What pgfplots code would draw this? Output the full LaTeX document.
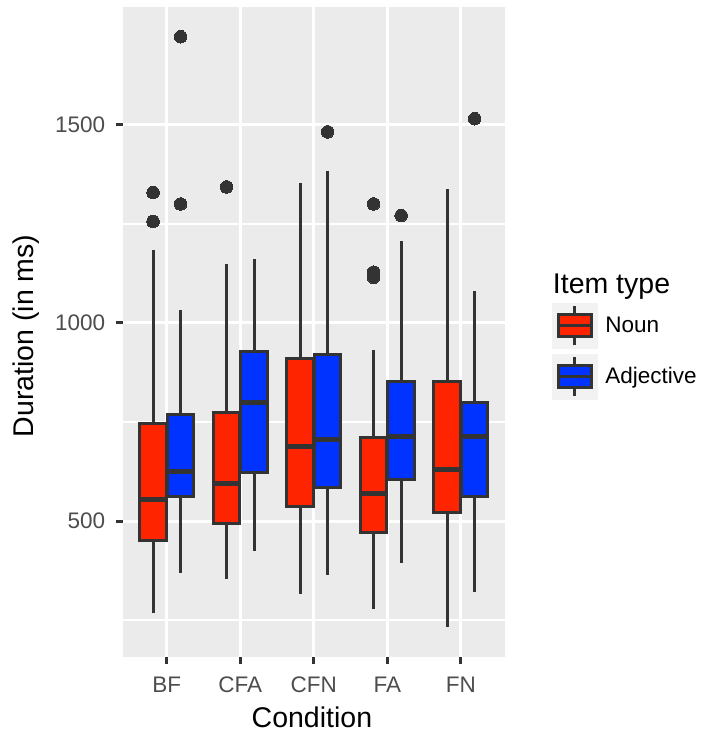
\documentclass[border=0pt]{standalone}
\usepackage{fontspec}
\setmainfont{Liberation Sans}
\usepackage{pgfplots}
\pgfplotsset{compat=1.18}
\definecolor{panelbg}{HTML}{EBEBEB}
\definecolor{gtwenty}{HTML}{333333}
\definecolor{tickgray}{HTML}{4D4D4D}
\definecolor{nounred}{RGB}{255,36,0}
\definecolor{adjblue}{RGB}{0,51,255}
\definecolor{keybg}{HTML}{F2F2F2}
\newcommand\legendkey[1]{%
  \fill[keybg] (0pt,-22.5pt) rectangle (45pt,22.5pt);
  \draw[gtwenty, line width=3pt] (22.5pt,-19.5pt) -- (22.5pt,19.5pt);
  \filldraw[draw=gtwenty, fill=#1, line width=3pt] (6.5pt,-11pt) rectangle (39.5pt,11pt);
  \draw[gtwenty, line width=3pt] (6.5pt,0pt) -- (39.5pt,0pt);
}
% \bx{position}{lower whisker}{lower quartile}{median}{upper quartile}{upper whisker}{fill colour}
\newcommand\bx[7]{%
  \addplot[forget plot, gtwenty, line width=3pt] coordinates {(#1,#2) (#1,#3)};
  \addplot[forget plot, gtwenty, line width=3pt] coordinates {(#1,#5) (#1,#6)};
  \addplot[forget plot, fill=#7, draw=gtwenty, line width=3pt]
    coordinates {(#1-0.18,#3) (#1+0.18,#3) (#1+0.18,#5) (#1-0.18,#5)} -- cycle;
  \addplot[forget plot, gtwenty, line width=5pt] coordinates {(#1-0.18,#4) (#1+0.18,#4)};
}
\pgfplotsset{outl/.style={forget plot, only marks, mark=*, mark size=6.3pt,
  mark options={fill=gtwenty, draw=gtwenty, line width=0pt}}}
\begin{document}
\begin{tikzpicture}
\useasboundingbox (0,0) rectangle (702pt,734pt);
\begin{axis}[
  at={(122.7pt,77pt)}, anchor=south west,
  scale only axis, width=382.3pt, height=650pt,
  xmin=-0.6, xmax=4.6, ymin=157, ymax=1797,
  axis background/.style={fill=panelbg},
  axis line style={draw=none},
  xtick={0,1,2,3,4}, xticklabels={BF,CFA,CFN,FA,FN},
  ytick={500,1000,1500}, minor ytick={250,750,1250},
  xmajorgrids, ymajorgrids, yminorgrids,
  major grid style={white, line width=3pt},
  minor grid style={white, line width=1.5pt},
  tick align=outside, xtick pos=bottom, ytick pos=left,
  major tick length=7pt, minor tick length=0pt,
  tick style={gtwenty, line width=3pt},
  ticklabel style={font=\fontsize{22.5}{27}\selectfont, text=tickgray},
  xticklabel style={yshift=-9pt},
  yticklabel style={xshift=-7pt},
  /pgf/number format/assume math mode=true,
  /pgf/number format/1000 sep={},
  xlabel={Condition}, ylabel={Duration (in ms)},
  label style={font=\fontsize{28.5}{34}\selectfont},
  xlabel style={at={(axis description cs:0.495,-0.1082)}, anchor=base},
  ylabel style={at={(axis description cs:-0.2516,0.494)}, anchor=center},
  legend style={at={(axis description cs:1.1222,0.5442)}, anchor=north west,
    draw=none, fill=none, inner sep=0pt, outer sep=0pt, row sep=5pt, column sep=8.3pt,
    font=\fontsize{22.5}{27}\selectfont, nodes={inner sep=0pt}},
  legend cell align=left,
]
% BF
\bx{-0.1875}{267}{451}{555}{746}{1184}{nounred}
\addplot[outl] coordinates {(-0.1875,1329) (-0.1875,1256)};
\bx{0.1875}{370}{563}{626}{768}{1032}{adjblue}
\addplot[outl] coordinates {(0.1875,1722) (0.1875,1300)};
% CFA
\bx{0.8125}{353}{493}{594}{774}{1149}{nounred}
\addplot[outl] coordinates {(0.8125,1343)};
\bx{1.1875}{425}{623}{799}{927}{1162}{adjblue}
% CFN
\bx{1.8125}{317}{537}{688}{911}{1354}{nounred}
\bx{2.1875}{364}{585}{707}{921}{1384}{adjblue}
\addplot[outl] coordinates {(2.1875,1482)};
% FA
\bx{2.8125}{277}{471}{569}{711}{931}{nounred}
\addplot[outl] coordinates {(2.8125,1300) (2.8125,1128) (2.8125,1115)};
\bx{3.1875}{395}{605}{714}{851}{1207}{adjblue}
\addplot[outl] coordinates {(3.1875,1271)};
% FN
\bx{3.8125}{232}{522}{631}{851}{1339}{nounred}
\bx{4.1875}{322}{563}{714}{799}{1080}{adjblue}
\addplot[outl] coordinates {(4.1875,1515)};
\addlegendimage{legend image code/.code={\legendkey{nounred}}}
\addlegendentry{Noun}
\addlegendimage{legend image code/.code={\legendkey{adjblue}}}
\addlegendentry{Adjective}
\end{axis}
\node[anchor=base west, font=\fontsize{28.5}{34}\selectfont, inner sep=0pt] at (552.7pt,440.7pt) {Item type};
\end{tikzpicture}
\end{document}
